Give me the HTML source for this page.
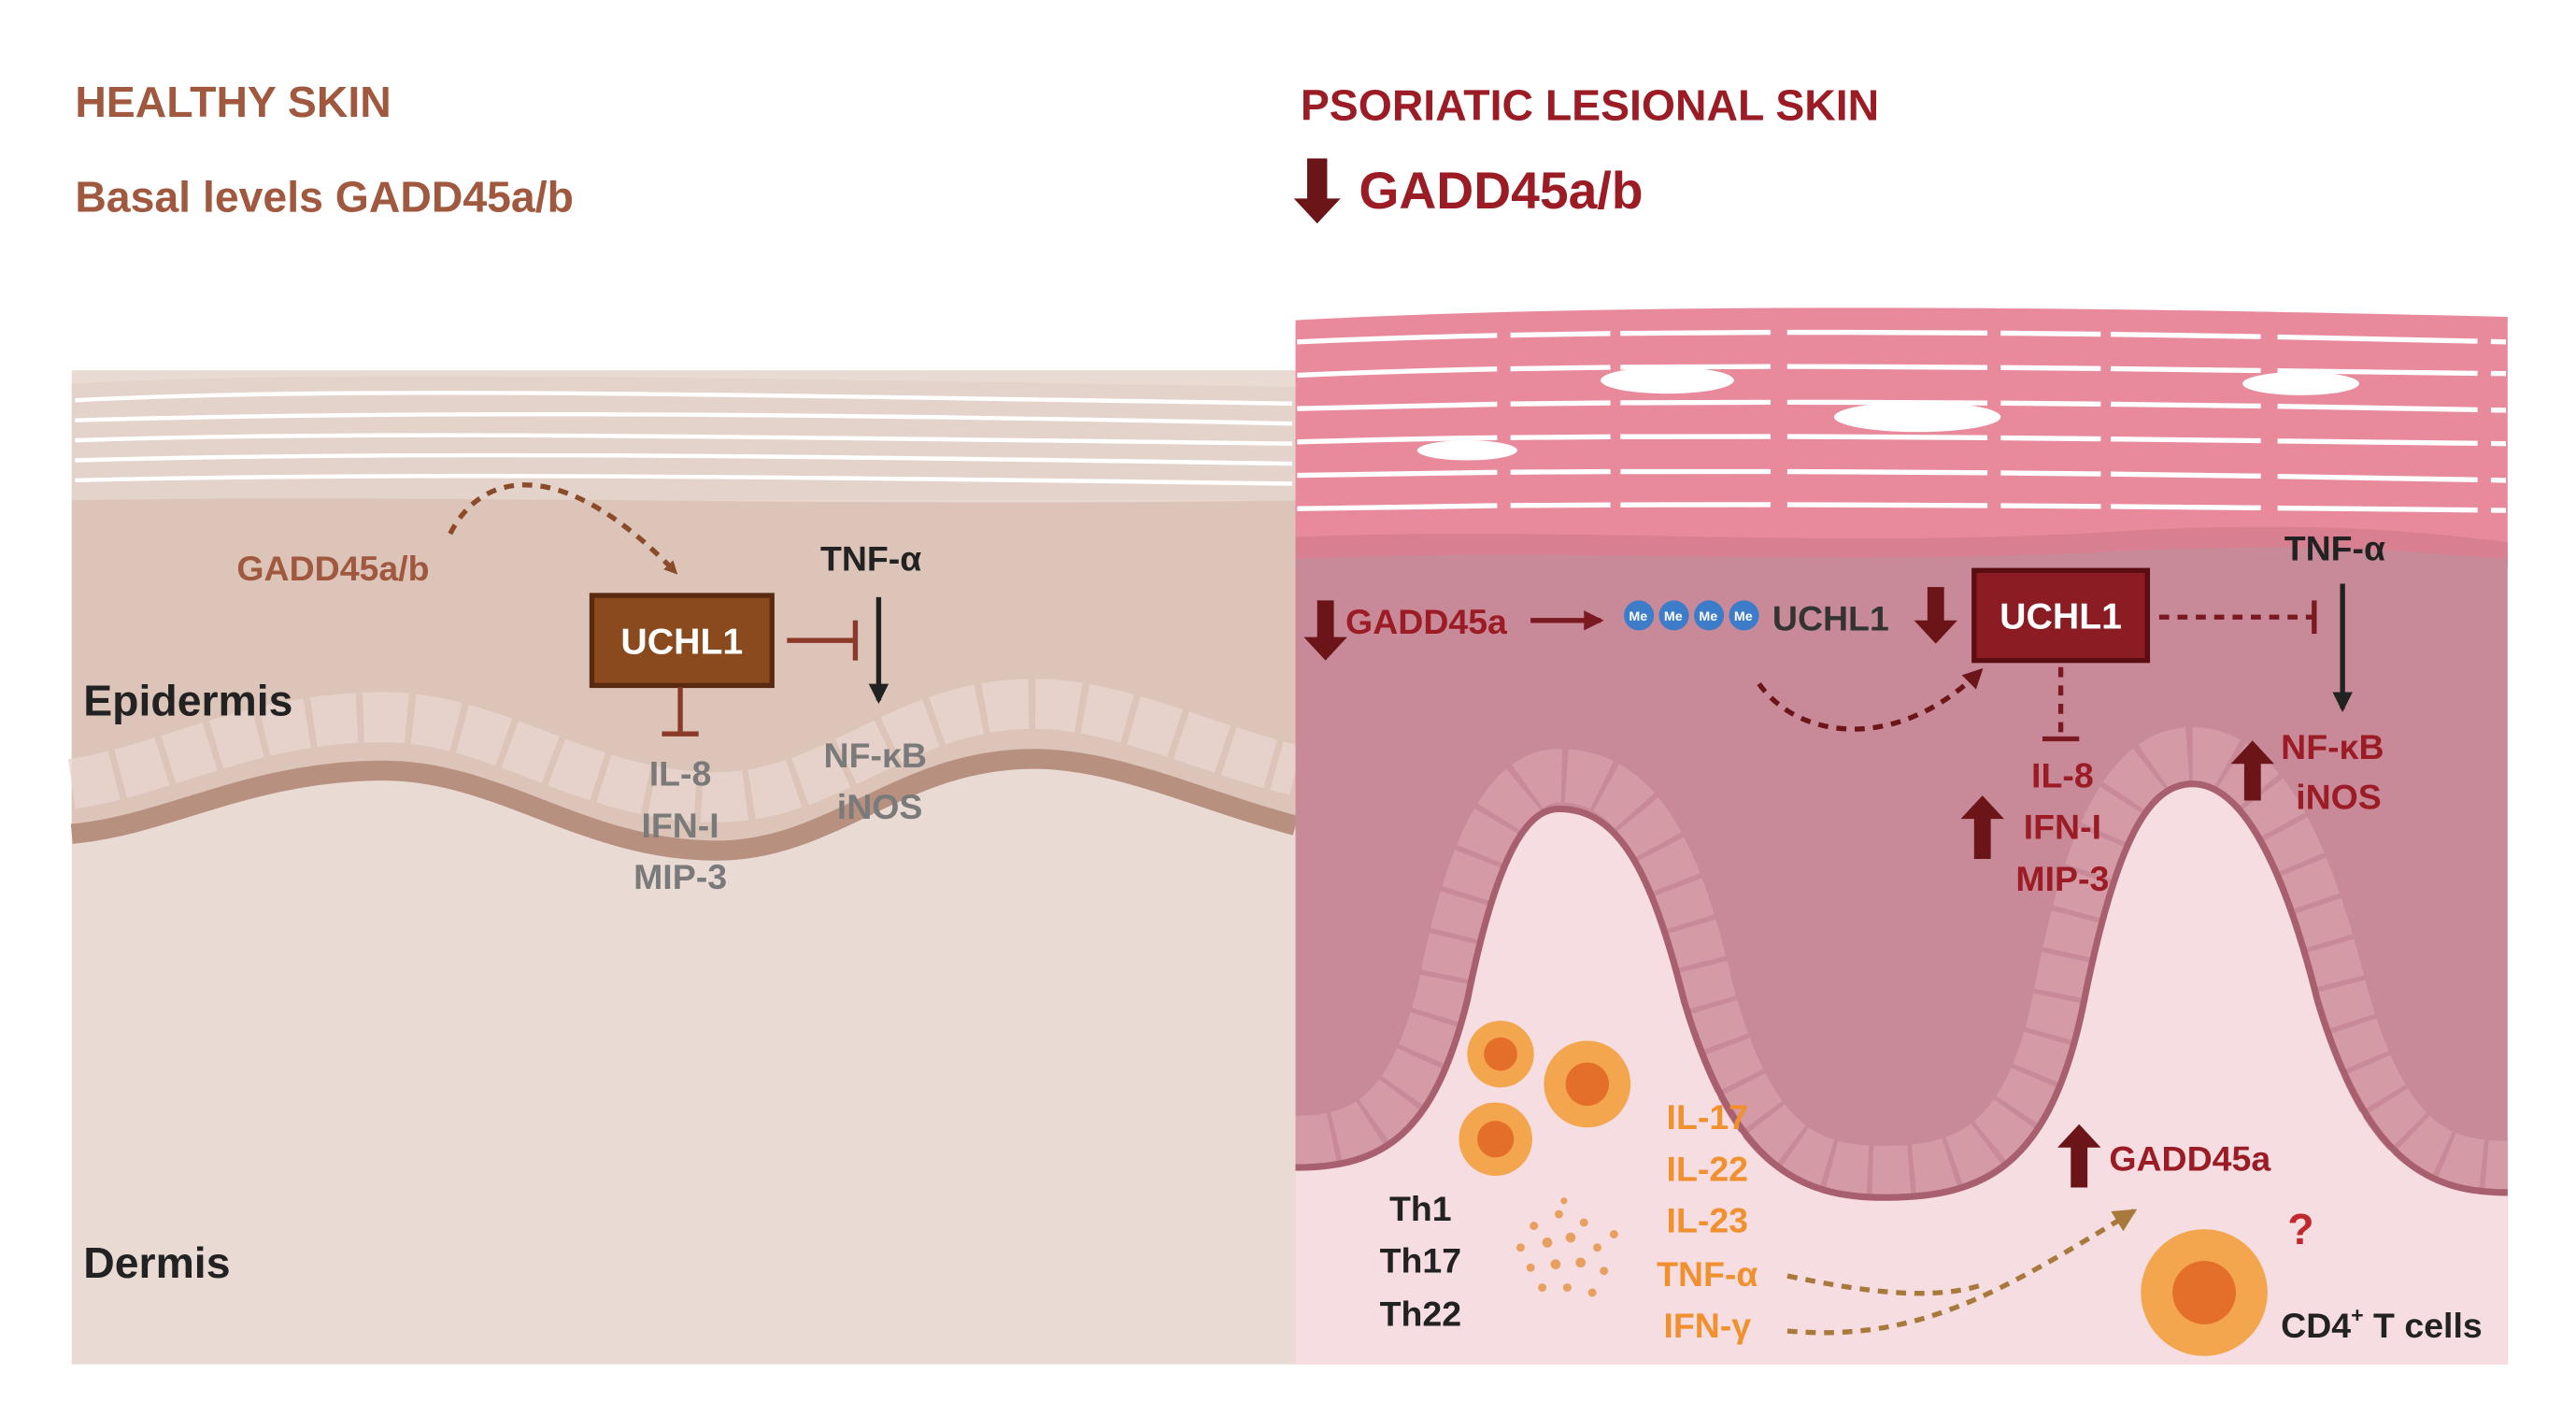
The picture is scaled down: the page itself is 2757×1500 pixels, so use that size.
<!DOCTYPE html>
<html><head><meta charset="utf-8"><style>
html,body{margin:0;padding:0;background:#fff;}
svg{display:block;}
text{font-family:"Liberation Sans",sans-serif;font-weight:bold;}
</style></head><body>
<svg width="2757" height="1500" viewBox="0 0 1545 840.6" xmlns="http://www.w3.org/2000/svg">
<defs>
<marker id="ab" markerWidth="8" markerHeight="8" refX="6" refY="4" orient="auto" markerUnits="userSpaceOnUse"><path d="M0,0 L8,4 L0,8Z" fill="#8b4a2a"/></marker>
<marker id="ak" markerWidth="12" markerHeight="12" refX="10" refY="6" orient="auto" markerUnits="userSpaceOnUse"><path d="M0,0 L12,6 L0,12Z" fill="#222"/></marker>
<marker id="ar" markerWidth="12" markerHeight="12" refX="10" refY="6" orient="auto" markerUnits="userSpaceOnUse"><path d="M0,0 L12,6 L0,12Z" fill="#7a1a20"/></marker>
<marker id="ao" markerWidth="14" markerHeight="14" refX="12" refY="7" orient="auto" markerUnits="userSpaceOnUse"><path d="M0,0 L14,7 L0,14Z" fill="#a8793a"/></marker>
<marker id="ad" markerWidth="12" markerHeight="12" refX="10" refY="6" orient="auto" markerUnits="userSpaceOnUse"><path d="M0,0 L12,6 L0,12Z" fill="#6b1518"/></marker>
</defs>

<!-- LEFT PANEL -->
<rect x="43" y="222" width="734" height="596" fill="#eadad4"/>
<path d="M43,230 C200,222 400,226 777,232 L777,300 L43,300Z" fill="#e4d3cb"/>
<g stroke="#fff" stroke-width="2.5" fill="none">
<path d="M45,240 C200,232 400,236 775,242"/>
<path d="M45,252 C250,246 500,248 775,254"/>
<path d="M45,264 C220,258 450,262 775,266"/>
<path d="M45,276 C260,270 520,274 775,278"/>
<path d="M45,288 C240,283 480,286 775,290"/>
</g>
<path d="M43,300 C250,296 500,304 777,300 L777,495 C720,480 670,455 620,455 C540,455 500,510 430,510 C350,510 300,462 230,462 C150,462 100,495 43,500Z" fill="#dcc4b8"/>
<path d="M43,500 C100,495 150,462 230,462 C300,462 350,510 430,510 C500,510 540,455 620,455 C670,455 720,480 777,495" stroke="#b89080" stroke-width="12" fill="none"/>
<path d="M43,470 C100,462 150,430 230,430 C300,430 350,478 430,478 C500,478 540,422 620,422 C670,422 720,448 777,462" stroke="#e8d6ce" stroke-width="30" fill="none" stroke-dasharray="26 4" opacity="0.8"/>

<path d="M270,320 C290,280 340,275 405,343" stroke="#8b4a2a" stroke-width="3" stroke-dasharray="6 5" fill="none" marker-end="url(#ab)"/>
<text x="142" y="348" font-size="21" fill="#a0583f">GADD45a/b</text>
<rect x="355" y="357" width="108" height="54" fill="#8a4a1e" stroke="#5a2a10" stroke-width="3"/>
<text x="409" y="392" font-size="22" fill="#fff" text-anchor="middle">UCHL1</text>
<line x1="472" y1="384" x2="513" y2="384" stroke="#8b3a2a" stroke-width="3"/>
<line x1="513" y1="372" x2="513" y2="396" stroke="#8b3a2a" stroke-width="3"/>
<text x="492" y="342" font-size="21" fill="#222">TNF-α</text>
<line x1="527" y1="358" x2="527" y2="420" stroke="#222" stroke-width="3" marker-end="url(#ak)"/>
<text x="494" y="460" font-size="21" fill="#7a7a7a">NF-κB</text>
<text x="502" y="491" font-size="21" fill="#7a7a7a">iNOS</text>
<line x1="408" y1="412" x2="408" y2="440" stroke="#8b3a2a" stroke-width="3"/>
<line x1="397" y1="440" x2="419" y2="440" stroke="#8b3a2a" stroke-width="3"/>
<text x="408" y="471" font-size="21" fill="#7a7a7a" text-anchor="middle">IL-8</text>
<text x="408" y="502" font-size="21" fill="#7a7a7a" text-anchor="middle">IFN-I</text>
<text x="408" y="533" font-size="21" fill="#7a7a7a" text-anchor="middle">MIP-3</text>
<text x="50" y="429" font-size="26" fill="#222">Epidermis</text>
<text x="50" y="766" font-size="26" fill="#222">Dermis</text>

<text x="45" y="70" font-size="26" fill="#a0583f">HEALTHY SKIN</text>
<text x="45" y="127" font-size="26" fill="#a0583f">Basal levels GADD45a/b</text>

<!-- RIGHT PANEL -->
<path d="M777,192 C1000,180 1300,185 1504,190 L1504,340 L777,340Z" fill="#e88a9b"/>
<g stroke="#fff" stroke-width="3" fill="none" stroke-dasharray="120 8 60 6 90 10">
<path d="M778,205 C1000,195 1300,200 1503,205"/>
<path d="M778,225 C1000,215 1300,222 1503,224"/>
<path d="M778,245 C1000,238 1300,242 1503,246"/>
<path d="M778,265 C1000,258 1300,264 1503,266"/>
<path d="M778,285 C1000,280 1300,284 1503,288"/>
<path d="M778,305 C1000,300 1300,304 1503,306"/>
</g>
<g fill="#fff"><ellipse cx="1000" cy="228" rx="40" ry="8"/><ellipse cx="1150" cy="250" rx="50" ry="9"/><ellipse cx="1380" cy="230" rx="35" ry="7"/><ellipse cx="880" cy="270" rx="30" ry="6"/></g>
<path d="M777,322 C950,315 1100,330 1280,318 C1400,312 1460,320 1504,325 L1504,340 L777,340Z" fill="#d97f92"/>
<path d="M777,335 C950,328 1100,340 1280,330 C1400,325 1460,332 1504,335 L1504,818 L777,818Z" fill="#c88a98"/>
<path d="M777,700 C830,700 860,680 880,600 C900,500 920,485 935,485 C970,485 990,520 1010,600 C1040,700 1080,718 1130,718 C1190,718 1230,700 1250,600 C1270,500 1290,470 1315,470 C1345,470 1370,520 1390,600 C1420,700 1460,715 1504,715 L1504,818 L777,818Z" fill="#f5dde1"/>
<path d="M777,685 C822,685 848,665 866,595 C886,490 912,465 935,465 C980,465 1004,508 1024,595 C1050,690 1085,703 1130,703 C1180,703 1218,688 1236,595 C1256,490 1282,452 1315,452 C1355,452 1382,508 1404,595 C1430,690 1465,700 1504,700" stroke="#d49aa6" stroke-width="32" fill="none" stroke-dasharray="22 3"/>
<path d="M777,700 C830,700 860,680 880,600 C900,500 920,485 935,485 C970,485 990,520 1010,600 C1040,700 1080,718 1130,718 C1190,718 1230,700 1250,600 C1270,500 1290,470 1315,470 C1345,470 1370,520 1390,600 C1420,700 1460,715 1504,715" stroke="#a8606f" stroke-width="4" fill="none"/>

<!-- right annotations -->
<path d="M790,360 v22 h-8 l13,14 l13,-14 h-8 v-22z" fill="#6b1518"/>
<text x="807" y="380" font-size="21" fill="#9b1c25">GADD45a</text>
<line x1="918" y1="372" x2="960" y2="372" stroke="#7a1a20" stroke-width="3" marker-end="url(#ar)"/>
<g font-size="8" fill="#fff">
<circle cx="983" cy="369" r="9" fill="#3d7cc9"/><circle cx="1004" cy="369" r="9" fill="#3d7cc9"/><circle cx="1025" cy="369" r="9" fill="#3d7cc9"/><circle cx="1046" cy="369" r="9" fill="#3d7cc9"/>
<text x="977" y="372">Me</text><text x="998" y="372">Me</text><text x="1019" y="372">Me</text><text x="1040" y="372">Me</text>
</g>
<text x="1063" y="378" font-size="21" fill="#333">UCHL1</text>
<path d="M1156,352 v20 h-8 l13,14 l13,-14 h-8 v-20z" fill="#6b1518"/>
<path d="M1055,410 C1080,445 1140,450 1188,402" stroke="#6b1518" stroke-width="3" stroke-dasharray="6 5" fill="none" marker-end="url(#ad)"/>
<rect x="1184" y="342" width="104" height="54" fill="#8b1c24" stroke="#5b0e12" stroke-width="3"/>
<text x="1236" y="377" font-size="22" fill="#fff" text-anchor="middle">UCHL1</text>
<line x1="1295" y1="370" x2="1388" y2="370" stroke="#7a1a20" stroke-width="3" stroke-dasharray="6 5"/>
<line x1="1388" y1="360" x2="1388" y2="380" stroke="#7a1a20" stroke-width="3"/>
<text x="1370" y="336" font-size="21" fill="#222">TNF-α</text>
<line x1="1405" y1="350" x2="1405" y2="425" stroke="#222" stroke-width="3" marker-end="url(#ak)"/>
<path d="M1346,480 v-22 h-8 l13,-14 l13,14 h-8 v22z" fill="#6b1518"/>
<text x="1368" y="455" font-size="21" fill="#9b1c25">NF-κB</text>
<text x="1377" y="485" font-size="21" fill="#9b1c25">iNOS</text>
<line x1="1236" y1="400" x2="1236" y2="443" stroke="#7a1a20" stroke-width="3" stroke-dasharray="6 5"/>
<line x1="1225" y1="443" x2="1247" y2="443" stroke="#7a1a20" stroke-width="3"/>
<path d="M1184,515 v-24 h-8 l13,-14 l13,14 h-8 v24z" fill="#6b1518"/>
<text x="1237" y="472" font-size="21" fill="#9b1c25" text-anchor="middle">IL-8</text>
<text x="1237" y="503" font-size="21" fill="#9b1c25" text-anchor="middle">IFN-I</text>
<text x="1237" y="534" font-size="21" fill="#9b1c25" text-anchor="middle">MIP-3</text>

<g>
<circle cx="900" cy="632" r="20" fill="#f3a64e"/><circle cx="900" cy="632" r="10" fill="#e46f2a"/>
<circle cx="952" cy="650" r="26" fill="#f3a64e"/><circle cx="952" cy="650" r="13" fill="#e46f2a"/>
<circle cx="897" cy="683" r="22" fill="#f3a64e"/><circle cx="897" cy="683" r="11" fill="#e46f2a"/>
<circle cx="1322" cy="775" r="38" fill="#f3a64e"/><circle cx="1322" cy="775" r="19" fill="#e46f2a"/>
</g>
<g fill="#e8a060">
<circle cx="920" cy="735" r="2.5"/><circle cx="935" cy="728" r="2.5"/><circle cx="950" cy="733" r="2.5"/><circle cx="912" cy="748" r="2.5"/><circle cx="928" cy="745" r="3"/><circle cx="942" cy="742" r="3"/><circle cx="958" cy="748" r="2.5"/><circle cx="968" cy="740" r="2.5"/><circle cx="918" cy="760" r="2.5"/><circle cx="933" cy="758" r="3"/><circle cx="948" cy="757" r="3"/><circle cx="962" cy="762" r="2.5"/><circle cx="925" cy="772" r="2.5"/><circle cx="940" cy="772" r="2.5"/><circle cx="955" cy="775" r="2.5"/><circle cx="938" cy="720" r="2"/>
</g>
<text x="852" y="732" font-size="21" fill="#222" text-anchor="middle">Th1</text>
<text x="852" y="763" font-size="21" fill="#222" text-anchor="middle">Th17</text>
<text x="852" y="795" font-size="21" fill="#222" text-anchor="middle">Th22</text>
<g font-size="21" fill="#f0902e" text-anchor="middle">
<text x="1024" y="677">IL-17</text><text x="1024" y="708">IL-22</text><text x="1024" y="739">IL-23</text><text x="1024" y="771">TNF-α</text><text x="1024" y="802">IFN-γ</text>
</g>
<path d="M1072,765 C1120,775 1160,780 1190,770" stroke="#a8793a" stroke-width="3" stroke-dasharray="6 5" fill="none"/>
<path d="M1072,798 C1150,805 1200,775 1280,726" stroke="#a8793a" stroke-width="3" stroke-dasharray="6 5" fill="none" marker-end="url(#ao)"/>
<path d="M1242,712 v-24 h-8 l13,-14 l13,14 h-8 v24z" fill="#6b1518"/>
<text x="1265" y="702" font-size="21" fill="#9b1c25">GADD45a</text>
<text x="1372" y="746" font-size="26" fill="#c0282e">?</text>
<text x="1368" y="802" font-size="21" fill="#222">CD4<tspan font-size="13" dy="-9">+</tspan><tspan dy="9"> T cells</tspan></text>

<text x="780" y="72" font-size="26" fill="#9b1c25">PSORIATIC LESIONAL SKIN</text>
<path d="M784,95 v24 h-8 l14,15 l14,-15 h-8 v-24z" fill="#6b1518"/>
<text x="815" y="125" font-size="31" fill="#9b1c25">GADD45a/b</text>
</svg>
</body></html>
